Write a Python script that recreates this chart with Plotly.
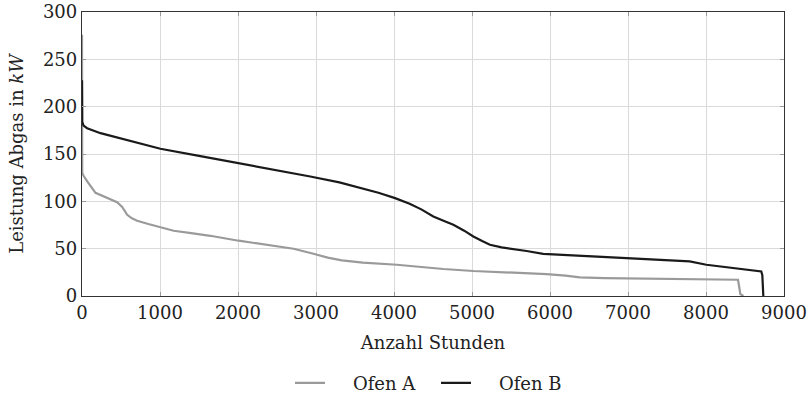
import plotly.graph_objects as go

# Sorted load-duration data (hours vs. exhaust power in kW)
hours_a = [0, 3, 20, 67, 173, 387, 450, 515, 579, 640, 707, 850, 1005, 1175, 1400, 1645,
           2008, 2286, 2500, 2712, 2968, 3150, 3332, 3600, 4036, 4300, 4633, 5017, 5500,
           5956, 6200, 6383, 6700, 7200, 7800, 8200, 8410, 8425, 8440, 8480]
power_a = [276, 130, 127, 121, 109, 101.6, 99, 94, 85.8, 82, 79.5, 76, 72.8, 68.9, 66.5, 63.6,
           58.4, 54.9, 52.6, 49.9, 44.6, 40.5, 37.6, 35.2, 33, 31, 28.5, 26.4, 25,
           23.2, 21.5, 19.6, 18.8, 18.4, 17.9, 17.6, 17.2, 10, 2, 0]

hours_b = [0, 3, 20, 66, 237, 663, 1005, 1500, 2008, 2500, 2926, 3300, 3608, 3800, 4014,
           4200, 4350, 4504, 4650, 4761, 4900, 5017, 5130, 5230, 5380, 5529, 5700, 5913,
           6383, 6639, 7200, 7791, 8005, 8250, 8473, 8709, 8722, 8730, 8735]
power_b = [228, 184, 180, 177.3, 172, 163.1, 155.5, 148, 140.3, 133, 126.2, 120, 113.5, 109, 103.4,
           97.5, 91.5, 84, 79, 75.2, 69, 62.9, 58, 54.1, 51.3, 49.9, 47.5, 44.6,
           42.5, 41.2, 39.3, 36.5, 33, 30.8, 28.5, 26, 22, 10, 0]

x_ticks = [0, 1000, 2000, 3000, 4000, 5000, 6000, 7000, 8000, 9000]
y_ticks = [0, 50, 100, 150, 200, 250, 300]

FONT = "DejaVu Serif"
TEXT = "#222222"
GAP = "\u00a0\u00a0\u00a0\u00a0"  # extra room between legend sample and label

fig = go.Figure()
fig.add_trace(go.Scatter(x=hours_a, y=power_a, mode="lines", name=GAP + "Ofen A",
                         line=dict(color="#9a9a9a", width=2.2)))
fig.add_trace(go.Scatter(x=hours_b, y=power_b, mode="lines", name=GAP + "Ofen B",
                         line=dict(color="#1a1a1a", width=2.2)))

axis_common = dict(
    showgrid=True, gridcolor="#dadada", gridwidth=1,
    showline=True, linecolor="#333333", linewidth=1.3, mirror="allticks",
    ticks="inside", ticklen=4, tickcolor="#999999", tickwidth=1,
    zeroline=False,
    tickfont=dict(family=FONT, size=18, color=TEXT),
)

fig.update_xaxes(range=[0, 9000], tickvals=x_ticks, ticktext=[str(v) for v in x_ticks],
                 title=dict(text="Anzahl Stunden", font=dict(family=FONT, size=18, color=TEXT),
                            standoff=14),
                 **axis_common)
fig.update_yaxes(range=[0, 300], tickvals=y_ticks, ticktext=[str(v) for v in y_ticks],
                 title=dict(text="Leistung Abgas in <i>kW</i>",
                            font=dict(family=FONT, size=18, color=TEXT), standoff=14),
                 **axis_common)

fig.update_layout(
    width=811, height=395,
    margin=dict(l=82, r=27, t=12, b=99, autoexpand=False),
    paper_bgcolor="white", plot_bgcolor="white",
    font=dict(family=FONT, size=18, color=TEXT),
    legend=dict(orientation="h", xref="container", x=290 / 811, xanchor="left",
                yref="container", y=0.03, yanchor="middle",
                font=dict(family=FONT, size=18, color=TEXT),
                itemwidth=30, entrywidth=101, entrywidthmode="pixels",
                bgcolor="rgba(0,0,0,0)"),
    showlegend=True,
)

fig.write_html("out.html")
